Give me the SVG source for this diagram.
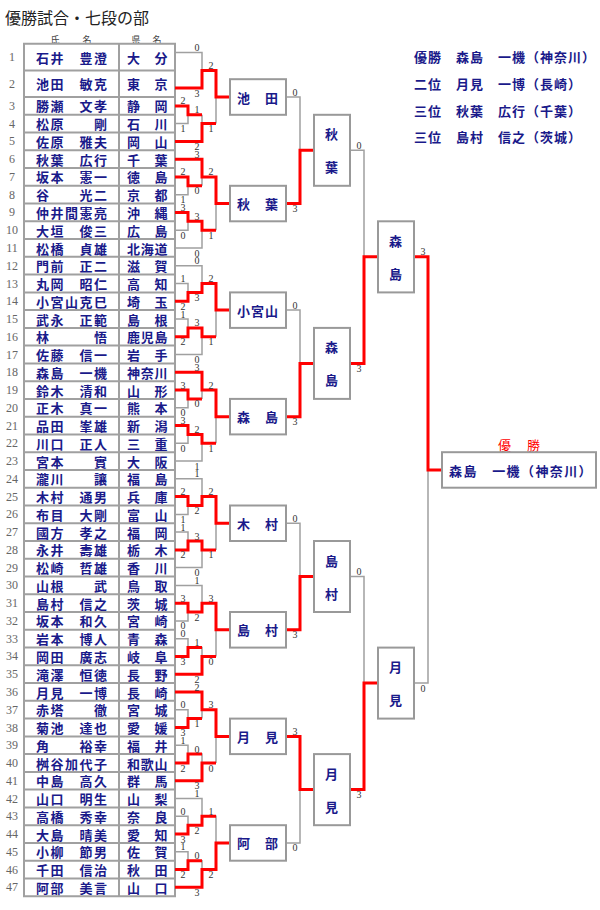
<svg xmlns="http://www.w3.org/2000/svg" width="600" height="910" viewBox="0 0 600 910">
<style>
text{font-family:"Noto Sans CJK JP","Noto Sans CJK SC",sans-serif;}
.ttl{font-size:16px;fill:#222;dominant-baseline:central;}
.hd{font-size:9px;fill:#444;dominant-baseline:central;text-anchor:middle;}
.nm{font-size:13px;font-weight:bold;fill:#1a1a8a;dominant-baseline:central;letter-spacing:1.5px;}
.pf{font-size:13px;font-weight:bold;fill:#1a1a8a;dominant-baseline:central;letter-spacing:0.7px;}
.no{font-family:"Liberation Serif",serif;font-size:12px;fill:#666;dominant-baseline:central;text-anchor:middle;}
.sc{font-family:"Liberation Serif",serif;font-size:10px;fill:#333;text-anchor:middle;}
.bt{font-size:13px;font-weight:bold;fill:#1a1a8a;dominant-baseline:central;text-anchor:middle;letter-spacing:1px;}
.lg{font-size:13px;font-weight:bold;fill:#1a1a8a;dominant-baseline:central;letter-spacing:1px;}
.tb{fill:none;stroke:#a0a0a0;stroke-width:2;}
.g{fill:none;stroke:#a0a0a0;stroke-width:1.5;}
.r{fill:none;stroke:#ff0000;stroke-width:3;}
.bx{fill:#fff;stroke:#999;stroke-width:2;}
</style>
<rect width="600" height="910" fill="#fff"/>
<text class="ttl" x="5" y="16.5">優勝試合・七段の部</text>
<text class="hd" x="55" y="39.5">氏</text><text class="hd" x="87" y="39.5">名</text>
<text class="hd" x="136" y="39.5">県</text><text class="hd" x="157" y="39.5">名</text>

<g id="table">
<path class="tb" d="M24 43.7H175V896.2H24Z M119 43.7V896.2 M24 70.4H175 M24 97H175 M24 114.8H175 M24 132.5H175 M24 150.3H175 M24 168H175 M24 185.8H175 M24 203.6H175 M24 221.3H175 M24 239.1H175 M24 256.8H175 M24 274.6H175 M24 292.4H175 M24 310.1H175 M24 327.9H175 M24 345.6H175 M24 363.4H175 M24 381.2H175 M24 398.9H175 M24 416.7H175 M24 434.4H175 M24 452.2H175 M24 470H175 M24 487.7H175 M24 505.5H175 M24 523.2H175 M24 541H175 M24 558.8H175 M24 576.5H175 M24 594.3H175 M24 612H175 M24 629.8H175 M24 647.6H175 M24 665.3H175 M24 683.1H175 M24 700.8H175 M24 718.6H175 M24 736.4H175 M24 754.1H175 M24 771.9H175 M24 789.6H175 M24 807.4H175 M24 825.2H175 M24 842.9H175 M24 860.7H175 M24 878.4H175"/>
</g>

<g id="p1"><text class="no" x="12" y="57">1</text><text class="nm" x="36" y="57">石井　豊澄</text><text class="pf" x="127" y="57">大　分</text></g>
<g id="p2"><text class="no" x="12" y="83.7">2</text><text class="nm" x="36" y="83.7">池田　敏克</text><text class="pf" x="127" y="83.7">東　京</text></g>
<g id="p3"><text class="no" x="12" y="105.9">3</text><text class="nm" x="36" y="105.9">勝瀬　文孝</text><text class="pf" x="127" y="105.9">静　岡</text></g>
<g id="p4"><text class="no" x="12" y="123.6">4</text><text class="nm" x="36" y="123.6">松原　　剛</text><text class="pf" x="127" y="123.6">石　川</text></g>
<g id="p5"><text class="no" x="12" y="141.4">5</text><text class="nm" x="36" y="141.4">佐原　雅夫</text><text class="pf" x="127" y="141.4">岡　山</text></g>
<g id="p6"><text class="no" x="12" y="159.2">6</text><text class="nm" x="36" y="159.2">秋葉　広行</text><text class="pf" x="127" y="159.2">千　葉</text></g>
<g id="p7"><text class="no" x="12" y="176.9">7</text><text class="nm" x="36" y="176.9">坂本　憲一</text><text class="pf" x="127" y="176.9">徳　島</text></g>
<g id="p8"><text class="no" x="12" y="194.7">8</text><text class="nm" x="36" y="194.7">谷　　光二</text><text class="pf" x="127" y="194.7">京　都</text></g>
<g id="p9"><text class="no" x="12" y="212.4">9</text><text class="nm" x="36" y="212.4">仲井間憲亮</text><text class="pf" x="127" y="212.4">沖　縄</text></g>
<g id="p10"><text class="no" x="12" y="230.2">10</text><text class="nm" x="36" y="230.2">大垣　俊三</text><text class="pf" x="127" y="230.2">広　島</text></g>
<g id="p11"><text class="no" x="12" y="248">11</text><text class="nm" x="36" y="248">松橋　貞雄</text><text class="pf" x="127" y="248">北海道</text></g>
<g id="p12"><text class="no" x="12" y="265.7">12</text><text class="nm" x="36" y="265.7">門前　正二</text><text class="pf" x="127" y="265.7">滋　賀</text></g>
<g id="p13"><text class="no" x="12" y="283.5">13</text><text class="nm" x="36" y="283.5">丸岡　昭仁</text><text class="pf" x="127" y="283.5">高　知</text></g>
<g id="p14"><text class="no" x="12" y="301.2">14</text><text class="nm" x="36" y="301.2">小宮山克巳</text><text class="pf" x="127" y="301.2">埼　玉</text></g>
<g id="p15"><text class="no" x="12" y="319">15</text><text class="nm" x="36" y="319">武永　正範</text><text class="pf" x="127" y="319">島　根</text></g>
<g id="p16"><text class="no" x="12" y="336.8">16</text><text class="nm" x="36" y="336.8">林　　　悟</text><text class="pf" x="127" y="336.8">鹿児島</text></g>
<g id="p17"><text class="no" x="12" y="354.5">17</text><text class="nm" x="36" y="354.5">佐藤　信一</text><text class="pf" x="127" y="354.5">岩　手</text></g>
<g id="p18"><text class="no" x="12" y="372.3">18</text><text class="nm" x="36" y="372.3">森島　一機</text><text class="pf" x="127" y="372.3">神奈川</text></g>
<g id="p19"><text class="no" x="12" y="390">19</text><text class="nm" x="36" y="390">鈴木　清和</text><text class="pf" x="127" y="390">山　形</text></g>
<g id="p20"><text class="no" x="12" y="407.8">20</text><text class="nm" x="36" y="407.8">正木　真一</text><text class="pf" x="127" y="407.8">熊　本</text></g>
<g id="p21"><text class="no" x="12" y="425.6">21</text><text class="nm" x="36" y="425.6">品田　峯雄</text><text class="pf" x="127" y="425.6">新　潟</text></g>
<g id="p22"><text class="no" x="12" y="443.3">22</text><text class="nm" x="36" y="443.3">川口　正人</text><text class="pf" x="127" y="443.3">三　重</text></g>
<g id="p23"><text class="no" x="12" y="461.1">23</text><text class="nm" x="36" y="461.1">宮本　　實</text><text class="pf" x="127" y="461.1">大　阪</text></g>
<g id="p24"><text class="no" x="12" y="478.8">24</text><text class="nm" x="36" y="478.8">瀧川　　讓</text><text class="pf" x="127" y="478.8">福　島</text></g>
<g id="p25"><text class="no" x="12" y="496.6">25</text><text class="nm" x="36" y="496.6">木村　通男</text><text class="pf" x="127" y="496.6">兵　庫</text></g>
<g id="p26"><text class="no" x="12" y="514.4">26</text><text class="nm" x="36" y="514.4">布目　大剛</text><text class="pf" x="127" y="514.4">富　山</text></g>
<g id="p27"><text class="no" x="12" y="532.1">27</text><text class="nm" x="36" y="532.1">國方　孝之</text><text class="pf" x="127" y="532.1">福　岡</text></g>
<g id="p28"><text class="no" x="12" y="549.9">28</text><text class="nm" x="36" y="549.9">永井　壽雄</text><text class="pf" x="127" y="549.9">栃　木</text></g>
<g id="p29"><text class="no" x="12" y="567.6">29</text><text class="nm" x="36" y="567.6">松崎　哲雄</text><text class="pf" x="127" y="567.6">香　川</text></g>
<g id="p30"><text class="no" x="12" y="585.4">30</text><text class="nm" x="36" y="585.4">山根　　武</text><text class="pf" x="127" y="585.4">鳥　取</text></g>
<g id="p31"><text class="no" x="12" y="603.2">31</text><text class="nm" x="36" y="603.2">島村　信之</text><text class="pf" x="127" y="603.2">茨　城</text></g>
<g id="p32"><text class="no" x="12" y="620.9">32</text><text class="nm" x="36" y="620.9">坂本　和久</text><text class="pf" x="127" y="620.9">宮　崎</text></g>
<g id="p33"><text class="no" x="12" y="638.7">33</text><text class="nm" x="36" y="638.7">岩本　博人</text><text class="pf" x="127" y="638.7">青　森</text></g>
<g id="p34"><text class="no" x="12" y="656.4">34</text><text class="nm" x="36" y="656.4">岡田　廣志</text><text class="pf" x="127" y="656.4">岐　阜</text></g>
<g id="p35"><text class="no" x="12" y="674.2">35</text><text class="nm" x="36" y="674.2">滝澤　恒徳</text><text class="pf" x="127" y="674.2">長　野</text></g>
<g id="p36"><text class="no" x="12" y="692">36</text><text class="nm" x="36" y="692">月見　一博</text><text class="pf" x="127" y="692">長　崎</text></g>
<g id="p37"><text class="no" x="12" y="709.7">37</text><text class="nm" x="36" y="709.7">赤塔　　徹</text><text class="pf" x="127" y="709.7">宮　城</text></g>
<g id="p38"><text class="no" x="12" y="727.5">38</text><text class="nm" x="36" y="727.5">菊池　達也</text><text class="pf" x="127" y="727.5">愛　媛</text></g>
<g id="p39"><text class="no" x="12" y="745.2">39</text><text class="nm" x="36" y="745.2">角　　裕幸</text><text class="pf" x="127" y="745.2">福　井</text></g>
<g id="p40"><text class="no" x="12" y="763">40</text><text class="nm" x="36" y="763">桝谷加代子</text><text class="pf" x="127" y="763">和歌山</text></g>
<g id="p41"><text class="no" x="12" y="780.8">41</text><text class="nm" x="36" y="780.8">中島　高久</text><text class="pf" x="127" y="780.8">群　馬</text></g>
<g id="p42"><text class="no" x="12" y="798.5">42</text><text class="nm" x="36" y="798.5">山口　明生</text><text class="pf" x="127" y="798.5">山　梨</text></g>
<g id="p43"><text class="no" x="12" y="816.3">43</text><text class="nm" x="36" y="816.3">高橋　秀幸</text><text class="pf" x="127" y="816.3">奈　良</text></g>
<g id="p44"><text class="no" x="12" y="834">44</text><text class="nm" x="36" y="834">大島　晴美</text><text class="pf" x="127" y="834">愛　知</text></g>
<g id="p45"><text class="no" x="12" y="851.8">45</text><text class="nm" x="36" y="851.8">小柳　節男</text><text class="pf" x="127" y="851.8">佐　賀</text></g>
<g id="p46"><text class="no" x="12" y="869.6">46</text><text class="nm" x="36" y="869.6">千田　信治</text><text class="pf" x="127" y="869.6">秋　田</text></g>
<g id="p47"><text class="no" x="12" y="887.3">47</text><text class="nm" x="36" y="887.3">阿部　美言</text><text class="pf" x="127" y="887.3">山　口</text></g>

<g id="connectors">
<path class="g" d="M175 52.6H202V88.1H175 M175 105.9H188V123.6H175 M188 114.8H202 M175 141.4H202V114.8 M202 123.6H216 M202 70.4H216V123.6 M216 97H230
M175 159.2H202V185.8 M175 176.9H188V194.7H175 M188 185.8H202 M202 176.9H216V230.2 M175 212.4H188V230.2H175 M188 221.3H202V248H175 M202 230.2H216 M216 203.6H230
M175 265.7H202V292.4 M175 283.5H188V301.2H175 M188 292.4H202 M202 283.5H216V336.8 M175 319H188V336.8H175 M188 327.9H202V354.5H175 M202 336.8H216 M216 310.1H230
M175 372.3H202V398.9 M175 390H188V407.8H175 M188 398.9H202 M202 390H216V443.3 M175 425.6H188V443.3H175 M188 434.4H202V461.1H175 M202 443.3H216 M216 416.7H230
M175 478.8H202V505.5 M175 496.6H188V514.4H175 M188 505.5H202 M202 496.6H216V549.9 M175 532.1H188V549.9H175 M188 541H202V567.6H175 M202 549.9H216 M216 523.2H230
M175 585.4H202V612 M175 603.2H188V620.9H175 M188 612H202 M202 603.2H216V656.4 M175 638.7H188V656.4H175 M188 647.6H202V674.2H175 M202 656.4H216 M216 629.8H230
M175 692H202V718.6 M175 709.7H188V727.5H175 M188 718.6H202 M202 709.7H216V763 M175 745.2H188V763H175 M188 754.1H202V780.8H175 M202 763H216 M216 736.4H230
M175 798.5H202V825.2 M175 816.3H188V834H175 M188 825.2H202 M202 816.3H216V869.6 M175 851.8H188V869.6H175 M188 860.7H202V887.3H175 M202 869.6H216 M216 842.9H230
M286 97H300V203.6H286 M300 150.3H314 M286 310.1H300V416.7H286 M300 363.4H314 M286 523.2H300V629.8H286 M300 576.5H314 M286 736.4H300V842.9H286 M300 789.6H314
M350 150.3H364V363.4H350 M364 256.8H378 M350 576.5H364V789.6H350 M364 683.1H378
M414 256.8H428V683.1H414 M428 470H442"/>
<path class="r" d="M175 88.1H202V70.4H216V97H230 M175 105.9H188V114.8H202 M175 141.4H202V123.6H216
M175 159.2H202V176.9H216V203.6H230 M175 176.9H188V185.8H202 M175 212.4H188V221.3H202V230.2H216
M175 301.2H188V292.4H202V283.5H216V310.1H230 M175 336.8H188V327.9H202V336.8H216
M175 372.3H202V390H216V416.7H230 M175 390H188V398.9H202 M175 425.6H188V434.4H202V443.3H216
M175 496.6H188V505.5H202V496.6H216V523.2H230 M175 549.9H188V541H202V549.9H216
M175 603.2H188V612H202V603.2H216V629.8H230 M175 656.4H188V647.6H202 M175 674.2H202V656.4H216
M175 692H202V709.7H216V736.4H230 M175 727.5H188V718.6H202 M175 763H188V754.1H202 M175 780.8H202V763H216
M175 834H188V825.2H202V816.3H216 M175 869.6H188V860.7H202 M175 887.3H202V869.6H216V842.9H230
M286 203.6H300V150.3H314 M286 416.7H300V363.4H314 M286 629.8H300V576.5H314 M286 736.4H300V789.6H314
M350 363.4H364V256.8H378 M350 789.6H364V683.1H378
M414 256.8H428V470H442"/>
</g>

<g id="scores">
<text class="sc" x="197" y="51.1">0</text><text class="sc" x="197" y="96.6">3</text><text class="sc" x="211" y="68.9">2</text><text class="sc" x="183" y="104.4">2</text><text class="sc" x="183" y="132.1">1</text><text class="sc" x="197" y="113.3">1</text><text class="sc" x="197" y="149.9">2</text><text class="sc" x="211" y="132.1">1</text>
<text class="sc" x="197" y="157.7">3</text><text class="sc" x="197" y="194.3">0</text><text class="sc" x="183" y="175.4">2</text><text class="sc" x="183" y="203.2">1</text><text class="sc" x="211" y="175.4">2</text><text class="sc" x="211" y="238.7">1</text><text class="sc" x="183" y="210.9">3</text><text class="sc" x="183" y="238.7">0</text><text class="sc" x="197" y="219.8">3</text><text class="sc" x="197" y="256.5">0</text>
<text class="sc" x="197" y="264.2">0</text><text class="sc" x="197" y="300.9">3</text><text class="sc" x="183" y="282">1</text><text class="sc" x="183" y="309.7">2</text><text class="sc" x="211" y="282">2</text><text class="sc" x="211" y="345.3">1</text><text class="sc" x="183" y="317.5">1</text><text class="sc" x="183" y="345.3">2</text><text class="sc" x="197" y="326.4">3</text><text class="sc" x="197" y="363">0</text>
<text class="sc" x="197" y="370.8">3</text><text class="sc" x="197" y="407.4">0</text><text class="sc" x="183" y="388.5">3</text><text class="sc" x="183" y="416.3">0</text><text class="sc" x="211" y="388.5">2</text><text class="sc" x="211" y="451.8">1</text><text class="sc" x="183" y="424.1">3</text><text class="sc" x="183" y="451.8">0</text><text class="sc" x="197" y="432.9">2</text><text class="sc" x="197" y="469.6">1</text>
<text class="sc" x="197" y="477.3">1</text><text class="sc" x="197" y="514">2</text><text class="sc" x="183" y="495.1">2</text><text class="sc" x="183" y="522.9">1</text><text class="sc" x="211" y="495.1">2</text><text class="sc" x="211" y="558.4">1</text><text class="sc" x="183" y="530.6">1</text><text class="sc" x="183" y="558.4">2</text><text class="sc" x="197" y="539.5">3</text><text class="sc" x="197" y="576.1">0</text>
<text class="sc" x="197" y="583.9">1</text><text class="sc" x="197" y="620.5">2</text><text class="sc" x="183" y="601.7">3</text><text class="sc" x="183" y="629.4">0</text><text class="sc" x="211" y="601.7">3</text><text class="sc" x="211" y="664.9">0</text><text class="sc" x="183" y="637.2">0</text><text class="sc" x="183" y="664.9">3</text><text class="sc" x="197" y="646.1">1</text><text class="sc" x="197" y="682.7">2</text>
<text class="sc" x="197" y="690.5">2</text><text class="sc" x="197" y="727.1">1</text><text class="sc" x="183" y="708.2">0</text><text class="sc" x="183" y="736">3</text><text class="sc" x="211" y="708.2">3</text><text class="sc" x="211" y="771.5">0</text><text class="sc" x="183" y="743.7">1</text><text class="sc" x="183" y="771.5">2</text><text class="sc" x="197" y="752.6">0</text><text class="sc" x="197" y="789.3">3</text>
<text class="sc" x="197" y="797">1</text><text class="sc" x="197" y="833.7">2</text><text class="sc" x="183" y="814.8">0</text><text class="sc" x="183" y="842.5">3</text><text class="sc" x="211" y="814.8">1</text><text class="sc" x="211" y="878.1">2</text><text class="sc" x="183" y="850.3">1</text><text class="sc" x="183" y="878.1">2</text><text class="sc" x="197" y="859.2">0</text><text class="sc" x="197" y="895.8">3</text>
<text class="sc" x="295" y="95.5">0</text><text class="sc" x="295" y="212.1">3</text><text class="sc" x="295" y="308.6">0</text><text class="sc" x="295" y="425.2">3</text><text class="sc" x="295" y="521.7">0</text><text class="sc" x="295" y="638.3">3</text><text class="sc" x="295" y="734.9">3</text><text class="sc" x="295" y="851.4">0</text>
<text class="sc" x="359" y="148.8">0</text><text class="sc" x="359" y="371.9">3</text><text class="sc" x="359" y="575">0</text><text class="sc" x="359" y="798.1">3</text>
<text class="sc" x="423" y="255.3">3</text><text class="sc" x="423" y="691.6">0</text>
</g>

<g id="b-ikeda"><rect class="bx" x="230" y="79.2" width="56" height="35.6"/><text class="bt" x="258" y="97">池　田</text></g>
<g id="b-akiba"><rect class="bx" x="230" y="185.8" width="56" height="35.5"/><text class="bt" x="258" y="203.6">秋　葉</text></g>
<g id="b-komiyama"><rect class="bx" x="230" y="292.4" width="56" height="35.5"/><text class="bt" x="258" y="310.1">小宮山</text></g>
<g id="b-morishima"><rect class="bx" x="230" y="398.9" width="56" height="35.5"/><text class="bt" x="258" y="416.7">森　島</text></g>
<g id="b-kimura"><rect class="bx" x="230" y="505.5" width="56" height="35.5"/><text class="bt" x="258" y="523.2">木　村</text></g>
<g id="b-shimamura"><rect class="bx" x="230" y="612" width="56" height="35.6"/><text class="bt" x="258" y="629.8">島　村</text></g>
<g id="b-tsukimi"><rect class="bx" x="230" y="718.6" width="56" height="35.5"/><text class="bt" x="258" y="736.4">月　見</text></g>
<g id="b-abe"><rect class="bx" x="230" y="825.2" width="56" height="35.5"/><text class="bt" x="258" y="842.9">阿　部</text></g>

<g id="q-akiba"><rect class="bx" x="314" y="114.8" width="36" height="71"/><text class="bt" x="332" y="133.8">秋</text><text class="bt" x="332" y="166.8">葉</text></g>
<g id="q-morishima"><rect class="bx" x="314" y="327.9" width="36" height="71"/><text class="bt" x="332" y="346.9">森</text><text class="bt" x="332" y="379.9">島</text></g>
<g id="q-shimamura"><rect class="bx" x="314" y="541" width="36" height="71"/><text class="bt" x="332" y="560">島</text><text class="bt" x="332" y="593">村</text></g>
<g id="q-tsukimi"><rect class="bx" x="314" y="754.1" width="36" height="71.1"/><text class="bt" x="332" y="773.1">月</text><text class="bt" x="332" y="806.1">見</text></g>

<g id="s-morishima"><rect class="bx" x="378" y="221.3" width="36" height="71.1"/><text class="bt" x="396" y="240.3">森</text><text class="bt" x="396" y="273.3">島</text></g>
<g id="s-tsukimi"><rect class="bx" x="378" y="647.6" width="36" height="71"/><text class="bt" x="396" y="666.6">月</text><text class="bt" x="396" y="699.6">見</text></g>

<g id="champion"><text x="498" y="444" style="font-size:13px;fill:#ff0000;dominant-baseline:central;letter-spacing:1.5px">優　勝</text><rect class="bx" x="442" y="452.2" width="154" height="35.5"/><text class="lg" x="449" y="470" style="letter-spacing:1.4px">森島　一機（神奈川）</text></g>

<g id="legend">
<text class="lg" x="414" y="56.5">優勝　森島　一機（神奈川）</text>
<text class="lg" x="414" y="83.5">二位　月見　一博（長崎）</text>
<text class="lg" x="414" y="110">三位　秋葉　広行（千葉）</text>
<text class="lg" x="414" y="136.5">三位　島村　信之（茨城）</text>
</g>
</svg>
